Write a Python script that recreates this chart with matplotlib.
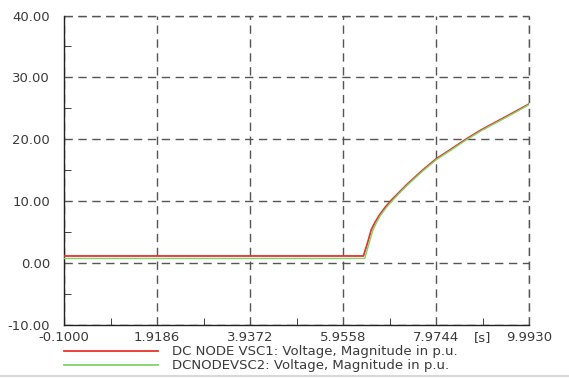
import numpy as np
import matplotlib.pyplot as plt
from matplotlib.lines import Line2D
from matplotlib.ticker import FixedLocator, MultipleLocator

plt.rcParams['font.family'] = ['DejaVu Sans']

# DC node voltages (p.u.) vs time (s)
t_vsc1 = [-0.1, 6.40, 6.43, 6.47, 6.52, 6.57, 6.66, 6.75, 6.88, 7.01, 7.17,
          7.33, 7.65, 7.97, 8.30, 8.60, 8.95, 9.30, 9.65, 9.993]
u_vsc1 = [1.15, 1.15, 1.9, 2.8, 4.1, 5.4, 6.7, 7.8, 9.1, 10.2, 11.4,
          12.6, 14.8, 16.8, 18.4, 19.9, 21.5, 22.9, 24.3, 25.7]
t_vsc2 = [-0.1, 6.43, 6.46, 6.50, 6.55, 6.60, 6.68, 6.77, 6.90, 7.03, 7.18,
          7.34, 7.66, 7.98, 8.31, 8.61, 8.96, 9.31, 9.66, 9.993]
u_vsc2 = [0.75, 0.75, 1.6, 2.6, 3.9, 5.2, 6.5, 7.7, 9.0, 10.1, 11.3,
          12.5, 14.7, 16.7, 18.3, 19.8, 21.4, 22.8, 24.2, 25.6]

x_ticks = [-0.1000, 1.9186, 3.9372, 5.9558, 7.9744, 9.9930]
y_ticks = [-10, 0, 10, 20, 30, 40]
legend_labels = ['DC NODE VSC1: Voltage, Magnitude in p.u.',
                 'DCNODEVSC2: Voltage, Magnitude in p.u.']
red = '#e8322c'
green = '#7ed66a'
txt = '#3a3a3a'
fs = 9.5

fig = plt.figure(figsize=(5.69, 3.79), dpi=100)
ax = fig.add_axes([0.1125, 0.1425, 0.8172, 0.8165])

ax.plot(t_vsc1, u_vsc1, color=red, lw=1.3, zorder=3)
ax.plot(t_vsc2, u_vsc2, color=green, lw=1.0, zorder=3)

ax.set_xlim(x_ticks[0], x_ticks[-1])
ax.set_ylim(-10, 40)

ax.xaxis.set_major_locator(FixedLocator(x_ticks))
ax.yaxis.set_major_locator(FixedLocator(y_ticks))
ax.xaxis.set_minor_locator(FixedLocator(
    [(a + b) / 2 for a, b in zip(x_ticks[:-1], x_ticks[1:])]))
ax.yaxis.set_minor_locator(MultipleLocator(5))

ax.set_xticklabels([f'{v:.4f}' for v in x_ticks])
ax.set_yticklabels([f'{v:.2f}' for v in y_ticks])
ax.tick_params(which='major', length=0, labelsize=fs, colors=txt)
ax.tick_params(axis='y', which='major', pad=10)
ax.tick_params(axis='x', which='major', pad=4)
ax.tick_params(which='minor', direction='in', length=5, color='#222222')

for s in ['top', 'right']:
    ax.spines[s].set_visible(False)
for s in ['left', 'bottom']:
    ax.spines[s].set_color('#222222')
    ax.spines[s].set_linewidth(1.0)

# dashed grid, including the top and right borders
ax.grid(True, which='major', color='#555555', ls=(0, (6, 4)), lw=1.0)
ax.axhline(40, color='#555555', ls=(0, (6, 4)), lw=1.0, clip_on=False)
ax.axvline(x_ticks[-1], color='#555555', ls=(0, (6, 4)), lw=1.0, clip_on=False)

ax.annotate('[s]', xy=(8.99, -10), xytext=(0, -4), textcoords='offset points',
            ha='center', va='top', fontsize=fs, color=txt)

# legend below the axes
for i, (lab, col) in enumerate(zip(legend_labels, [red, green])):
    y = 1 - (351 + 14 * i) / 379
    fig.add_artist(Line2D([64 / 569, 158 / 569], [y, y], color=col, lw=1.3))
    fig.text(172 / 569, y, lab, fontsize=fs, color=txt, va='center', ha='left')

fig.add_artist(Line2D([0, 1], [0.008, 0.008], color='#d8d8d8', lw=1.5))

fig.savefig('out.png', dpi=100)
